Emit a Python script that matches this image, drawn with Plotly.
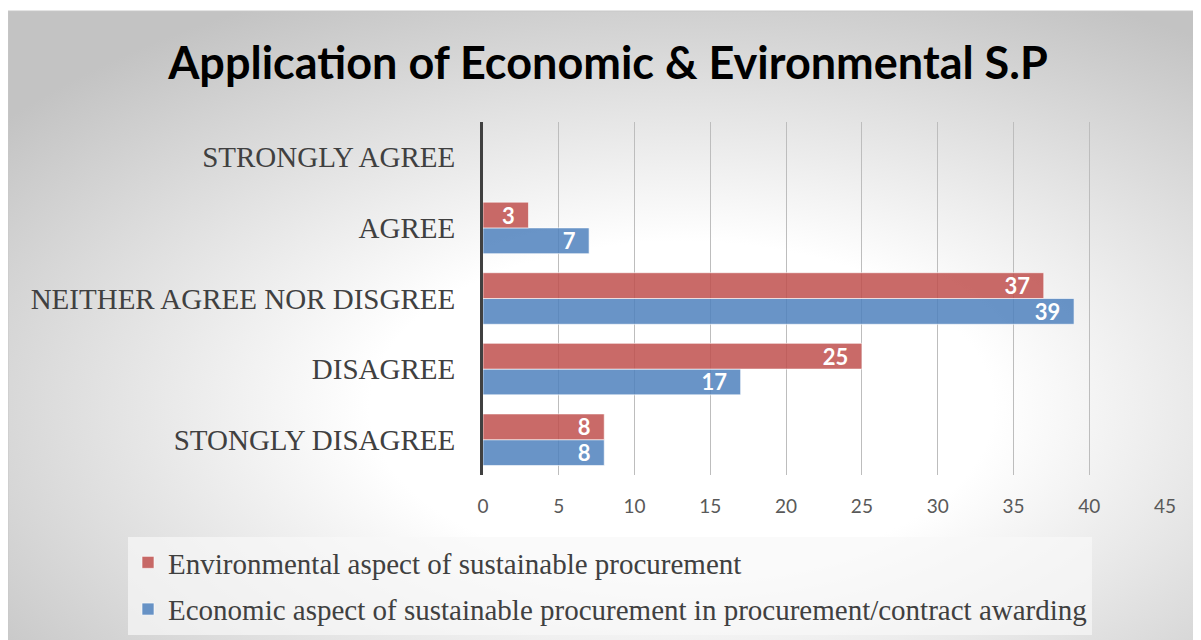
import base64
import plotly.graph_objects as go

# categories listed bottom -> top
categories = ["STONGLY DISAGREE", "DISAGREE", "NEITHER AGREE NOR DISGREE", "AGREE", "STRONGLY AGREE"]
environmental = [8, 25, 37, 3, None]
economic = [8, 17, 39, 7, None]
x_ticks = [0, 5, 10, 15, 20, 25, 30, 35, 40, 45]

name_env = "Environmental aspect of sustainable procurement"
name_eco = "Economic aspect of sustainable procurement in procurement/contract awarding"
title = "Application of Economic & Evironmental S.P"

# page puts the figure at an 8px offset, so work in figure pixels
W, H = 1201, 640
L, R, T, B = 475, 44, 114, 173
pw, ph = W - L - R, H - T - B


def px_x(p):
    return (p - L) / pw


def px_y(p):
    return (H - B - p) / ph


# radial grey-to-white background like the office chart style
svg = """<svg xmlns='http://www.w3.org/2000/svg' width='1200' height='630' viewBox='0 0 1200 630' preserveAspectRatio='none'>
<defs><radialGradient id='g' cx='0.56' cy='0.62' r='0.72'>
<stop offset='0' stop-color='#ffffff'/><stop offset='0.36' stop-color='#ffffff'/>
<stop offset='1' stop-color='#c3c3c3'/></radialGradient></defs>
<rect width='1200' height='630' fill='url(#g)'/></svg>"""
bg_src = "data:image/svg+xml;base64," + base64.b64encode(svg.encode()).decode()

# trailing nbsp keeps the label a little inside the bar end
lbl = lambda vals: [str(v) + "\u00a0\u00a0" if v is not None else "" for v in vals]
label_font = dict(family="Lato", size=22, color="white", weight="bold")

fig = go.Figure()
fig.add_trace(go.Bar(
    y=categories, x=economic, name=name_eco, orientation="h", legendgroup="eco", legendrank=2,
    marker=dict(color="rgba(79,129,189,0.85)", line=dict(color="rgba(255,255,255,0.6)", width=1)),
    text=lbl(economic), textposition="inside", insidetextanchor="end", textangle=0,
    constraintext="none", textfont=label_font,
))
fig.add_trace(go.Bar(
    y=categories, x=environmental, name=name_env, orientation="h", legendgroup="env", legendrank=1,
    marker=dict(color="rgba(192,80,77,0.85)", line=dict(color="rgba(255,255,255,0.6)", width=1)),
    text=lbl(environmental), textposition="inside", insidetextanchor="end", textangle=0,
    constraintext="none", textfont=label_font,
))

fig.update_layout(
    width=W, height=H,
    margin=dict(l=L, r=R, t=T, b=B, autoexpand=False),
    paper_bgcolor="white", plot_bgcolor="rgba(0,0,0,0)",
    barmode="group", bargap=0.27, bargroupgap=0.0,
    title=dict(text=title, x=600 / W, xanchor="center", y=1 - 55 / H, yanchor="middle",
               font=dict(family="Lato", size=45, color="black", weight="bold")),
    xaxis=dict(range=[0, 45], tickvals=x_ticks, showgrid=True, gridcolor="#bdbdbd", gridwidth=1,
               zeroline=False, showline=False, ticks="", ticklabelstandoff=18,
               tickfont=dict(family="Lato", size=19, color="#595959"), fixedrange=True),
    yaxis=dict(categoryorder="array", categoryarray=categories, showline=True, linecolor="#404040",
               linewidth=3, ticks="", ticklabelstandoff=19, showgrid=False,
               tickfont=dict(family="Liberation Serif", size=29, color="#404040")),
    showlegend=True,
    legend=dict(orientation="v", traceorder="grouped", x=px_x(120), y=px_y(529),
                xanchor="left", yanchor="top", bgcolor="rgba(248,248,248,0.7)", borderwidth=0,
                font=dict(family="Liberation Serif", size=29, color="#404040"),
                itemwidth=30, tracegroupgap=6),
    images=[dict(source=bg_src, xref="paper", yref="paper", x=px_x(0), y=px_y(3),
                 sizex=(W + 2) / pw, sizey=(H + 2 - 3) / ph, sizing="stretch",
                 xanchor="left", yanchor="top", layer="below")],
    shapes=[dict(type="rect", xref="paper", yref="paper", x0=px_x(0), x1=px_x(W + 3),
                 y0=px_y(H + 3), y1=px_y(3), line=dict(color="#c8c8c8", width=1), layer="below")],
)

fig.write_html("out.html")
